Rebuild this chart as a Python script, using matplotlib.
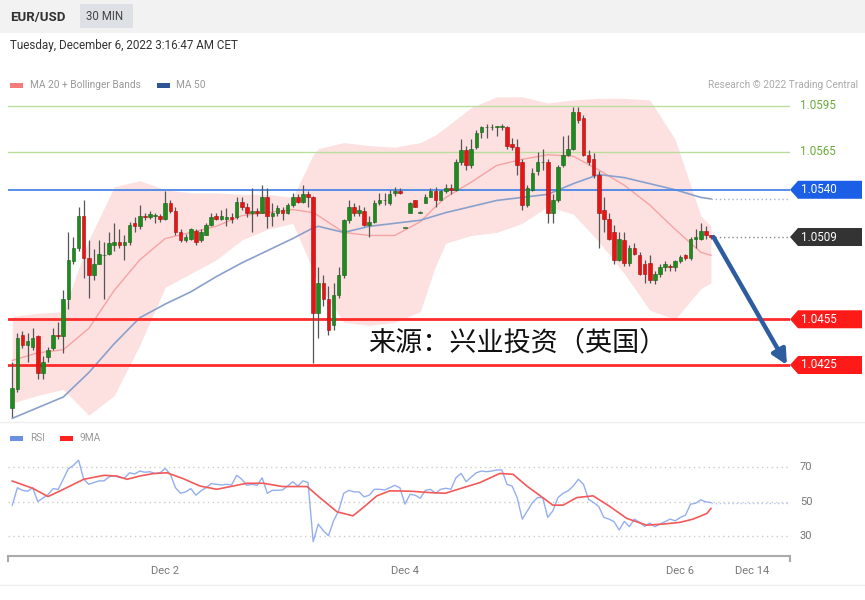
"""EUR/USD 30 MIN candlestick chart with Bollinger bands, MAs and RSI panel."""
import matplotlib

matplotlib.use("Agg")
from matplotlib import pyplot as plt
from matplotlib.patches import FancyArrowPatch, Polygon, Rectangle
from matplotlib.transforms import blended_transform_factory

plt.rcParams["font.family"] = ["Roboto", "DejaVu Sans"]

# ---- candle data (EUR/USD, 30 min) ----
opens = [
    1.0397, 1.0409, 1.0445, 1.0438, 1.0437, 1.0444, 1.0420, 1.0430, 1.0436, 1.0445,
    1.0444, 1.0468, 1.0493, 1.0502, 1.0523, 1.0495, 1.0484, 1.0491, 1.0497, 1.0498,
    1.0504, 1.0506, 1.0504, 1.0506, 1.0518, 1.0516, 1.0523, 1.0522, 1.0523, 1.0523,
    1.0521, 1.0531, 1.0526, 1.0512, 1.0507, 1.0508, 1.0513, 1.0507, 1.0510, 1.0517,
    1.0523, 1.0521, 1.0521, 1.0522, 1.0522, 1.0532, 1.0529, 1.0525, 1.0526, 1.0525,
    1.0535, 1.0523, 1.0525, 1.0527, 1.0525, 1.0530, 1.0535, 1.0532, 1.0537, 1.0535,
    1.0459, 1.0479, 1.0468, 1.0451, 1.0471, 1.0484, 1.0520, 1.0529, 1.0525, 1.0526,
    1.0517, 1.0519, 1.0531, 1.0533, 1.0531, 1.0538, 1.0539, 1.0515, 1.0525, 1.0533,
    1.0525, 1.0531, 1.0535, 1.0539, 1.0533, 1.0539, 1.0541, 1.0540, 1.0558, 1.0566,
    1.0556, 1.0568, 1.0578, 1.0581, 1.0581, 1.0581, 1.0581, 1.0581, 1.0570, 1.0568,
    1.0558, 1.0530, 1.0540, 1.0552, 1.0558, 1.0558, 1.0525, 1.0533, 1.0556, 1.0563,
    1.0567, 1.0591, 1.0587, 1.0563, 1.0560, 1.0550, 1.0527, 1.0521, 1.0512, 1.0494,
    1.0507, 1.0492, 1.0502, 1.0497, 1.0491, 1.0492, 1.0481, 1.0485, 1.0489, 1.0490,
    1.0489, 1.0493, 1.0497, 1.0495, 1.0508, 1.0508, 1.0513, 1.0510,
]
highs = [
    1.0427, 1.0446, 1.0447, 1.0446, 1.0449, 1.0445, 1.0431, 1.0437, 1.0449, 1.0453,
    1.0474, 1.0512, 1.0509, 1.0529, 1.0533, 1.0507, 1.0501, 1.0507, 1.0506, 1.0512,
    1.0518, 1.0514, 1.0510, 1.0519, 1.0522, 1.0530, 1.0525, 1.0526, 1.0525, 1.0524,
    1.0539, 1.0533, 1.0529, 1.0514, 1.0511, 1.0515, 1.0514, 1.0514, 1.0518, 1.0525,
    1.0525, 1.0527, 1.0528, 1.0525, 1.0535, 1.0535, 1.0531, 1.0541, 1.0528, 1.0543,
    1.0541, 1.0531, 1.0530, 1.0529, 1.0531, 1.0538, 1.0537, 1.0543, 1.0539, 1.0536,
    1.0489, 1.0484, 1.0477, 1.0479, 1.0489, 1.0521, 1.0533, 1.0531, 1.0530, 1.0529,
    1.0523, 1.0533, 1.0538, 1.0538, 1.0540, 1.0542, 1.0541, 1.0515, 1.0532, 1.0533,
    1.0526, 1.0537, 1.0541, 1.0542, 1.0540, 1.0544, 1.0544, 1.0560, 1.0573, 1.0569,
    1.0573, 1.0579, 1.0582, 1.0583, 1.0583, 1.0582, 1.0583, 1.0582, 1.0574, 1.0573,
    1.0560, 1.0543, 1.0554, 1.0565, 1.0567, 1.0560, 1.0537, 1.0556, 1.0575, 1.0576,
    1.0594, 1.0594, 1.0589, 1.0566, 1.0564, 1.0552, 1.0535, 1.0525, 1.0517, 1.0512,
    1.0512, 1.0504, 1.0505, 1.0499, 1.0494, 1.0497, 1.0487, 1.0491, 1.0493, 1.0491,
    1.0494, 1.0497, 1.0498, 1.0509, 1.0514, 1.0518, 1.0516, 1.0510,
]
lows = [
    1.0391, 1.0407, 1.0436, 1.0427, 1.0435, 1.0416, 1.0416, 1.0427, 1.0435, 1.0442,
    1.0433, 1.0462, 1.0491, 1.0500, 1.0482, 1.0469, 1.0481, 1.0491, 1.0468, 1.0497,
    1.0500, 1.0502, 1.0494, 1.0504, 1.0512, 1.0514, 1.0520, 1.0521, 1.0518, 1.0519,
    1.0520, 1.0525, 1.0510, 1.0506, 1.0506, 1.0507, 1.0504, 1.0506, 1.0510, 1.0516,
    1.0520, 1.0520, 1.0516, 1.0518, 1.0521, 1.0527, 1.0522, 1.0512, 1.0523, 1.0525,
    1.0515, 1.0516, 1.0523, 1.0520, 1.0524, 1.0529, 1.0531, 1.0531, 1.0529, 1.0426,
    1.0443, 1.0464, 1.0445, 1.0448, 1.0469, 1.0482, 1.0518, 1.0523, 1.0523, 1.0516,
    1.0509, 1.0518, 1.0530, 1.0530, 1.0530, 1.0536, 1.0537, 1.0515, 1.0525, 1.0529,
    1.0525, 1.0531, 1.0535, 1.0529, 1.0533, 1.0538, 1.0537, 1.0539, 1.0556, 1.0553,
    1.0554, 1.0567, 1.0574, 1.0574, 1.0579, 1.0575, 1.0579, 1.0567, 1.0566, 1.0550,
    1.0527, 1.0529, 1.0539, 1.0550, 1.0553, 1.0518, 1.0518, 1.0532, 1.0555, 1.0562,
    1.0566, 1.0584, 1.0562, 1.0556, 1.0548, 1.0502, 1.0512, 1.0507, 1.0491, 1.0493,
    1.0490, 1.0490, 1.0497, 1.0484, 1.0479, 1.0479, 1.0478, 1.0483, 1.0487, 1.0487,
    1.0487, 1.0492, 1.0494, 1.0494, 1.0502, 1.0507, 1.0508, 1.0508,
]
closes = [
    1.0410, 1.0443, 1.0438, 1.0441, 1.0443, 1.0420, 1.0427, 1.0435, 1.0445, 1.0444,
    1.0468, 1.0494, 1.0502, 1.0523, 1.0495, 1.0484, 1.0491, 1.0498, 1.0497, 1.0505,
    1.0506, 1.0504, 1.0506, 1.0517, 1.0516, 1.0523, 1.0522, 1.0524, 1.0523, 1.0521,
    1.0531, 1.0526, 1.0512, 1.0507, 1.0509, 1.0514, 1.0506, 1.0512, 1.0517, 1.0522,
    1.0521, 1.0523, 1.0522, 1.0521, 1.0532, 1.0529, 1.0525, 1.0526, 1.0525, 1.0535,
    1.0523, 1.0525, 1.0528, 1.0525, 1.0530, 1.0535, 1.0532, 1.0537, 1.0535, 1.0459,
    1.0479, 1.0468, 1.0448, 1.0471, 1.0484, 1.0520, 1.0529, 1.0525, 1.0527, 1.0517,
    1.0519, 1.0531, 1.0533, 1.0533, 1.0537, 1.0539, 1.0538, 1.0515, 1.0531, 1.0529,
    1.0525, 1.0535, 1.0539, 1.0533, 1.0539, 1.0541, 1.0540, 1.0558, 1.0566, 1.0556,
    1.0567, 1.0577, 1.0581, 1.0581, 1.0581, 1.0582, 1.0582, 1.0569, 1.0568, 1.0556,
    1.0530, 1.0541, 1.0551, 1.0558, 1.0558, 1.0525, 1.0533, 1.0555, 1.0563, 1.0567,
    1.0591, 1.0586, 1.0563, 1.0558, 1.0550, 1.0525, 1.0521, 1.0508, 1.0494, 1.0508,
    1.0492, 1.0502, 1.0498, 1.0485, 1.0485, 1.0481, 1.0485, 1.0489, 1.0491, 1.0489,
    1.0493, 1.0496, 1.0495, 1.0508, 1.0509, 1.0513, 1.0510, 1.0509,
]

# ---- indicator lines, read at sampled candles ----
band_idx = [0, 5, 10, 15, 20, 25, 30, 35, 40, 45, 50, 55, 59, 60, 65, 70, 75, 80,
            83, 85, 90, 95, 100, 105, 110, 115, 120, 125, 130, 135, 137]
ma20 = [1.0428, 1.0433, 1.0435, 1.0449, 1.0474, 1.0494, 1.0508, 1.0512, 1.0516, 1.0523,
        1.0525, 1.0527, 1.0525, 1.0523, 1.0512, 1.0510, 1.0510, 1.0519, 1.0529, 1.0535,
        1.0545, 1.0556, 1.0560, 1.0563, 1.0562, 1.0553, 1.0543, 1.0530, 1.0514, 1.0499,
        1.0497]
bb_upper = [1.0457, 1.0459, 1.0460, 1.0507, 1.0542, 1.0546, 1.0540, 1.0538, 1.0538, 1.0537,
            1.0537, 1.0535, 1.0563, 1.0567, 1.0571, 1.0569, 1.0568, 1.0571, 1.0576, 1.0581,
            1.0594, 1.0601, 1.0601, 1.0597, 1.0599, 1.0600, 1.0600, 1.0599, 1.0573, 1.0523,
            1.0516]
bb_lower = [1.0400, 1.0405, 1.0409, 1.0392, 1.0405, 1.0438, 1.0476, 1.0485, 1.0494, 1.0507,
            1.0514, 1.0518, 1.0487, 1.0478, 1.0453, 1.0451, 1.0453, 1.0460, 1.0490, 1.0505,
            1.0510, 1.0512, 1.0518, 1.0529, 1.0524, 1.0506, 1.0485, 1.0461, 1.0455, 1.0475,
            1.0479]
ma50 = [1.0390, 1.0397, 1.0404, 1.0420, 1.0439, 1.0456, 1.0465, 1.0473, 1.0483, 1.0492,
        1.0500, 1.0508, 1.0515, 1.0516, 1.0512, 1.0516, 1.0518, 1.0520, 1.0523, 1.0525,
        1.0529, 1.0533, 1.0535, 1.0537, 1.0544, 1.0550, 1.0548, 1.0544, 1.0540, 1.0535,
        1.0534]

rsi = [
    47.9, 58, 56.5, 56, 58, 50, 52, 54, 57.5, 57,
    63, 69, 71, 74, 63, 60, 61, 62, 62, 64.4,
    65, 64, 63.5, 66.7, 66, 67.7, 67, 67.3, 66.3, 66.7,
    69.2, 65.8, 58, 54.8, 55.6, 57.5, 53.7, 56.2, 58, 60.4,
    60, 59.6, 60, 59.6, 65.2, 62.9, 59.4, 60, 59.4, 63.8,
    54.8, 56.5, 56.5, 56.7, 59, 61.5, 59, 62, 61, 26.7,
    36.9, 33, 30.2, 38.8, 44.6, 54.8, 56.5, 55.6, 55.6, 52.7,
    53.7, 57.1, 57.1, 56.7, 58, 59.4, 58, 48.5, 54.2, 53.7,
    51.9, 56.5, 57.1, 54.8, 57.1, 57.7, 57.1, 63.8, 66.3, 61.5,
    64.2, 66.7, 67.7, 67.3, 67.7, 68.3, 68.3, 60, 59, 52.3,
    39.8, 44.6, 49.4, 52.3, 52.3, 40.8, 44.6, 52.3, 54.8, 56.2,
    59, 62.9, 60, 51.3, 49.4, 47.1, 40.8, 39.8, 38.3, 33.5,
    38.5, 35.4, 39.8, 37.9, 35.6, 37.5, 35.4, 36.9, 38.3, 39.8,
    38.8, 40.8, 42.1, 48.5, 49, 51, 49.8, 49.4,
]
ma9_idx = [0, 4, 7, 9.4, 14, 18, 20.5, 22.5, 25, 27.6, 30.3, 33.5, 36.8, 40.1, 43.3, 46,
           49.2, 53, 57.8, 60.3, 63.7, 66.8, 68.8, 71.5, 74, 78, 81.9, 84.9, 88.4, 91.7,
           95.6, 98.2, 100.9, 104, 106, 108, 110.7, 113.9, 117.2, 120.5, 124.4, 127.5,
           130.9, 133.5, 136.2, 137]
ma9 = [61.9, 57.7, 52.9, 56.2, 62.9, 65.2, 64.8, 62.9, 64.8, 66.2, 66.7, 63.3, 59, 57.1,
       59, 60.6, 60.6, 58.7, 58.7, 52.3, 44, 41.7, 46.5, 53.3, 56.2, 56, 55.2, 54.8, 58,
       61, 66.3, 65.8, 59, 52.3, 47.9, 47.9, 52.3, 53.3, 47.1, 40.2, 36.3, 36.9, 37.9,
       39.8, 43.1, 46]

levels_green = [1.0595, 1.0565]
level_pivot = 1.0540
levels_red = [1.0455, 1.0425]
last_price = 1.0509

date_ticks = [30, 77, 131, 145]
date_labels = ["Dec 2", "Dec 4", "Dec 6", "Dec 14"]

W, H = 865, 600
X_MIN, X_MAX = -0.84, 152.5


def px_box(x0, y0, x1, y1):
    return [x0 / W, 1 - y1 / H, (x1 - x0) / W, (y1 - y0) / H]


fig = plt.figure(figsize=(W / 100, H / 100), dpi=100)
fig.patch.set_facecolor("white")

overlay = fig.add_axes([0, 0, 1, 1], zorder=0)
overlay.set_xlim(0, W)
overlay.set_ylim(H, 0)
overlay.axis("off")

ax = fig.add_axes(px_box(8, 95, 790, 420), zorder=1)
ax.patch.set_alpha(0)
ax.set_xlim(X_MIN, X_MAX)
ax.set_ylim(1.03889, 1.06022)
ax.axis("off")

rax = fig.add_axes(px_box(8, 450, 790, 556), zorder=1)
rax.patch.set_alpha(0)
rax.set_xlim(X_MIN, X_MAX)
rax.set_ylim(18.4, 79.9)

# ---- header ----
overlay.add_patch(Rectangle((0, 0), W, 33, color="#f2f2f2", lw=0))
overlay.add_patch(Rectangle((80, 4), 53, 24, color="#dde1e6", lw=0))
overlay.text(10, 17, "EUR/USD", fontsize=9.5, fontweight="bold", color="#333333", va="center")
overlay.text(86, 17, "30 MIN", fontsize=8.3, color="#444444", va="center")
overlay.text(10, 46, "Tuesday, December 6, 2022 3:16:47 AM CET", fontsize=8.4,
             color="#333333", va="center")
overlay.add_patch(Rectangle((10, 83), 13, 4.5, color="#f47c7c", lw=0))
overlay.text(30, 85, "MA 20 + Bollinger Bands", fontsize=7.3, color="#999999", va="center")
overlay.add_patch(Rectangle((157, 83), 13, 4.5, color="#2f5597", lw=0))
overlay.text(176, 85, "MA 50", fontsize=7.3, color="#999999", va="center")
overlay.text(858, 85, "Research \u00a9 2022 Trading Central", fontsize=7.3,
             color="#aaaaaa", va="center", ha="right")

overlay.plot([0, W], [422, 422], color="#eeeeee", lw=1)
overlay.plot([0, W], [585, 585], color="#eeeeee", lw=1)

# ---- price panel ----
ax.fill_between(band_idx, bb_lower, bb_upper, color="#fde1e1", lw=0, zorder=1)
ax.plot(band_idx, ma20, color="#f6a3a3", lw=1, zorder=2)
ax.plot(band_idx, ma50, color="#8aa0cc", lw=1.2, zorder=2)
ax.plot([band_idx[-1], X_MAX], [ma50[-1], ma50[-1]], color="#9fb3da", lw=1, ls=(0, (1, 2)))

for lvl in levels_green:
    ax.axhline(lvl, color="#b9dd9f", lw=1, zorder=3)
ax.axhline(level_pivot, color="#4a86e8", lw=1.3, zorder=3)
for lvl in levels_red:
    ax.axhline(lvl, color="#ff2a2a", lw=2, zorder=3)

idx = list(range(len(closes)))
ax.vlines(idx, lows, highs, color="#555555", lw=0.9, zorder=4)
body_bottom = [min(o, c) for o, c in zip(opens, closes)]
body_height = [max(abs(c - o), 0.00004) for o, c in zip(opens, closes)]
body_color = ["#1f8a1f" if c >= o else "#e81414" for o, c in zip(opens, closes)]
edge_color = ["#146014" if c >= o else "#a01010" for o, c in zip(opens, closes)]
ax.bar(idx, body_height, bottom=body_bottom, width=0.7, color=body_color,
       edgecolor=edge_color, lw=0.4, zorder=5)

ax.plot([idx[-1], X_MAX], [last_price, last_price], color="#888888", lw=1,
        ls=(0, (1, 2)), zorder=3)

arrow = FancyArrowPatch((idx[-1] + 0.5, last_price), (151.9, levels_red[1]),
                        arrowstyle="-|>", mutation_scale=22, lw=3.2,
                        color="#2e5d9f", zorder=6, shrinkA=0, shrinkB=0)
ax.add_patch(arrow)

overlay.text(368, 343, "来源：兴业投资（英国）", fontsize=19.5, color="#111111",
             va="center", ha="left", family=["Noto Sans CJK SC", "DejaVu Sans"])


def price_to_px(price):
    disp = ax.transData.transform((0, price))
    return overlay.transData.inverted().transform(disp)[1]


for lvl in levels_green:
    overlay.text(800, price_to_px(lvl), f"{lvl:.4f}", fontsize=8.4, color="#6aab3c",
                 va="center")

tags = [(level_pivot, "#1a5fe6"), (last_price, "#333333"),
        (levels_red[0], "#ff1a1a"), (levels_red[1], "#ff1a1a")]
for lvl, col in tags:
    y = price_to_px(lvl)
    overlay.add_patch(Polygon([(790, y), (798, y - 9), (862, y - 9), (862, y + 9),
                               (798, y + 9)], closed=True, color=col, lw=0))
    overlay.text(801, y, f"{lvl:.4f}", fontsize=8.4, color="white", va="center")

# ---- RSI panel ----
for lvl in (70, 50, 30):
    rax.axhline(lvl, color="#cccccc", lw=1, ls=(0, (1, 2.5)))
rax.plot(idx, rsi, color="#94aef0", lw=1)
rax.plot([idx[-1], X_MAX], [rsi[-1], rsi[-1]], color="#b4c6f4", lw=1, ls=(0, (1, 2)))
rax.plot(ma9_idx, ma9, color="#f25a5a", lw=1.2)

rtrans = blended_transform_factory(overlay.transData, rax.transData)
for lvl in (70, 50, 30):
    rax.text(800, lvl, str(lvl), transform=rtrans, fontsize=8, color="#777777",
             va="center", clip_on=False)

overlay.add_patch(Rectangle((10, 436), 13, 4.5, color="#6d8fe3", lw=0))
overlay.text(30, 438, "RSI", fontsize=7.3, color="#999999", va="center")
overlay.add_patch(Rectangle((60, 436), 13, 4.5, color="#ff2020", lw=0))
overlay.text(80, 438, "9MA", fontsize=7.3, color="#999999", va="center")

for side in ("top", "left", "right"):
    rax.spines[side].set_visible(False)
rax.spines["bottom"].set_color("#aaaaaa")
rax.spines["bottom"].set_linewidth(1.5)
rax.set_yticks([])
rax.set_xticks(date_ticks)
rax.set_xticklabels(date_labels, fontsize=8, color="#777777")
rax.tick_params(axis="x", length=0, pad=7)
overlay.plot([8, 8], [556, 561], color="#aaaaaa", lw=1.5)
overlay.plot([790, 790], [556, 561], color="#aaaaaa", lw=1.5)

fig.savefig("out.png", dpi=100)
plt.close(fig)
